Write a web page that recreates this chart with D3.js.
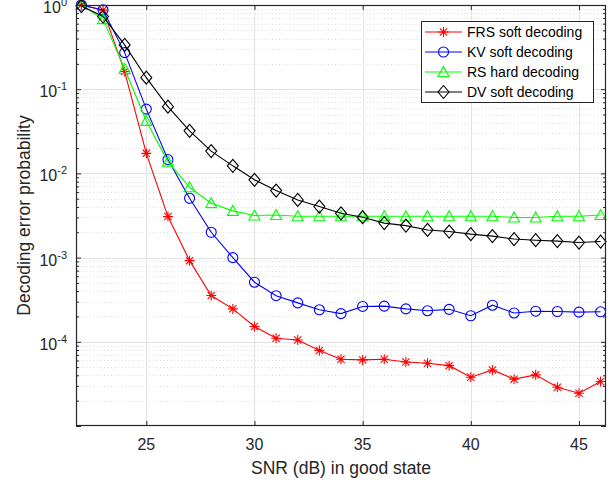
<!DOCTYPE html>
<html>
<head>
<meta charset="utf-8">
<script src="https://cdn.jsdelivr.net/npm/d3@7"></script>
<style>
  html, body { margin: 0; padding: 0; background: #fff; }
  svg { display: block; font-family: "Liberation Sans", Arial, Helvetica, sans-serif; }
</style>
</head>
<body>
<svg id="chart" width="616" height="483"></svg>
<script>
// SNR values (dB) in the good channel state
const snr = [22, 23, 24, 25, 26, 27, 28, 29, 30, 31, 32, 33, 34, 35, 36, 37, 38, 39, 40, 41, 42, 43, 44, 45, 46];

// Decoding error probability per decoder
const frsSoft = [1.0, 0.87, 0.162, 0.0173, 0.00307, 0.00092, 0.000354, 0.000246, 0.000152, 0.00011,
  0.000105, 0.000079, 0.000062, 0.000061, 0.000062, 0.0000576, 0.0000557, 0.0000521, 0.000038,
  0.0000463, 0.000036, 0.0000405, 0.0000289, 0.0000245, 0.0000338];
const kvSoft = [1.0, 0.874, 0.272, 0.058, 0.0146, 0.00507, 0.0020, 0.0010, 0.00051, 0.000353,
  0.00029, 0.00024, 0.000216, 0.000263, 0.000265, 0.000246, 0.000234, 0.000243, 0.000204,
  0.000272, 0.00022, 0.000231, 0.000229, 0.000225, 0.000227];
const rsHard = [1.0, 0.68, 0.174, 0.042, 0.0138, 0.00685, 0.00443, 0.00359, 0.00316, 0.0032,
  0.0031, 0.0031, 0.0031, 0.0031, 0.0031, 0.0031, 0.0031, 0.0031, 0.0031, 0.0031, 0.0030,
  0.0030, 0.0031, 0.0031, 0.0032];
const dvSoft = [0.97, 0.73, 0.336, 0.137, 0.062, 0.032, 0.0184, 0.0123, 0.0084, 0.00625,
  0.00484, 0.00404, 0.00336, 0.00302, 0.00257, 0.0024, 0.00213, 0.00204, 0.0019, 0.0018,
  0.00166, 0.00161, 0.00157, 0.00151, 0.00155];

const seriesNames = ["FRS soft decoding", "KV soft decoding", "RS hard decoding", "DV soft decoding"];
const seriesColors = ["#ff0000", "#0000ff", "#00ff00", "#000000"];
const seriesMarkers = ["star", "circle", "triangle", "diamond"];

const xTicks = [25, 30, 35, 40, 45];
const yExponents = [0, -1, -2, -3, -4, -5];

const series = [frsSoft, kvSoft, rsHard, dvSoft].map((vals, i) => ({
  name: seriesNames[i], color: seriesColors[i], marker: seriesMarkers[i],
  points: snr.map((s, j) => [s, vals[j]])
}));

const svg = d3.select("#chart");
const L = 76, R = 606, T = 5, B = 426;
const axisColor = "#262626";

const x = d3.scaleLinear().domain([21.75, 46.25]).range([L, R]);
const y = d3.scaleLog().domain([1e-5, 1]).range([B, T]);

svg.append("rect").attr("width", 616).attr("height", 483).attr("fill", "#fff");

// Minor and major grid
const minorVals = [];
for (let e = -5; e < 0; e++) for (let k = 2; k <= 9; k++) minorVals.push(k * Math.pow(10, e));
const grid = svg.append("g");
grid.selectAll("line.minor").data(minorVals).join("line")
  .attr("x1", L).attr("x2", R)
  .attr("y1", d => Math.round(y(d)) + 0.5).attr("y2", d => Math.round(y(d)) + 0.5)
  .attr("stroke", "#d0d0d0").attr("stroke-width", 0.8).attr("stroke-dasharray", "1,2.5");
grid.selectAll("line.hmaj").data(yExponents.slice(1, -1)).join("line")
  .attr("x1", L).attr("x2", R)
  .attr("y1", d => Math.round(y(Math.pow(10, d))) + 0.5).attr("y2", d => Math.round(y(Math.pow(10, d))) + 0.5)
  .attr("stroke", "#e3e3e3").attr("stroke-width", 1);
grid.selectAll("line.vmaj").data(xTicks).join("line")
  .attr("x1", d => Math.round(x(d)) + 0.5).attr("x2", d => Math.round(x(d)) + 0.5)
  .attr("y1", T).attr("y2", B)
  .attr("stroke", "#e3e3e3").attr("stroke-width", 1);

// Axes built from d3 axis generators, ticks pointing inward
const fmtNone = () => "";
const xBottom = svg.append("g").attr("transform", `translate(0,${B})`)
  .call(d3.axisBottom(x).tickValues(xTicks).tickSizeInner(-5).tickSizeOuter(0).tickFormat(fmtNone));
const xTop = svg.append("g").attr("transform", `translate(0,${T})`)
  .call(d3.axisTop(x).tickValues(xTicks).tickSizeInner(-5).tickSizeOuter(0).tickFormat(fmtNone));
const majorY = yExponents.map(e => Math.pow(10, e));
const yLeftMinor = svg.append("g").attr("transform", `translate(${L},0)`)
  .call(d3.axisLeft(y).tickValues(minorVals).tickSizeInner(-3).tickSizeOuter(0).tickFormat(fmtNone));
const yRightMinor = svg.append("g").attr("transform", `translate(${R},0)`)
  .call(d3.axisRight(y).tickValues(minorVals).tickSizeInner(-3).tickSizeOuter(0).tickFormat(fmtNone));
const yLeft = svg.append("g").attr("transform", `translate(${L},0)`)
  .call(d3.axisLeft(y).tickValues(majorY).tickSizeInner(-5).tickSizeOuter(0).tickFormat(fmtNone));
const yRight = svg.append("g").attr("transform", `translate(${R},0)`)
  .call(d3.axisRight(y).tickValues(majorY).tickSizeInner(-5).tickSizeOuter(0).tickFormat(fmtNone));
[xBottom, xTop, yLeftMinor, yRightMinor, yLeft, yRight].forEach(g => {
  g.selectAll("line").attr("stroke", axisColor);
  g.select(".domain").remove();
});

// Series lines and markers
const line = d3.line().x(d => x(d[0])).y(d => y(d[1]));

function markerPath(kind) {
  switch (kind) {
    case "circle": return d3.symbol(d3.symbolCircle, Math.PI * 25)();
    case "triangle": return "M0,-5.5L5.5,4.5L-5.5,4.5Z";
    case "diamond": return "M0,-6.5L5.5,0L0,6.5L-5.5,0Z";
    case "star": return "M0,-5L0,5M-5,0L5,0M-3.6,-3.6L3.6,3.6M-3.6,3.6L3.6,-3.6";
  }
}

series.forEach(s => {
  const g = svg.append("g");
  g.append("path").datum(s.points).attr("d", line)
    .attr("fill", "none").attr("stroke", s.color).attr("stroke-width", 1.1);
  g.selectAll("path.m").data(s.points).join("path")
    .attr("class", "m")
    .attr("transform", d => `translate(${x(d[0])},${y(d[1])})`)
    .attr("d", markerPath(s.marker))
    .attr("fill", "none").attr("stroke", s.color).attr("stroke-width", 1.1);
});

// Axes box
svg.append("rect").attr("x", L + 0.5).attr("y", T + 0.5).attr("width", R - L - 1).attr("height", B - T - 1)
  .attr("fill", "none").attr("stroke", axisColor).attr("stroke-width", 1.2);

// Tick labels
svg.append("g").selectAll("text").data(xTicks).join("text")
  .attr("x", d => x(d)).attr("y", 450)
  .attr("text-anchor", "middle").attr("font-size", 16).attr("fill", axisColor)
  .text(d => d);

const yLab = svg.append("g").selectAll("text").data(yExponents.slice(0, -1)).join("text")
  .attr("x", 67).attr("y", d => y(Math.pow(10, d)) + 8)
  .attr("text-anchor", "end").attr("font-size", 16).attr("fill", axisColor);
yLab.append("tspan").text("10");
yLab.append("tspan").attr("font-size", 11).attr("dy", -7).text(d => d === 0 ? "0" : "-" + Math.abs(d));

// Axis titles
svg.append("text").attr("x", (L + R) / 2).attr("y", 474)
  .attr("text-anchor", "middle").attr("font-size", 17.5).attr("fill", axisColor)
  .text("SNR (dB) in good state");
svg.append("text").attr("transform", `translate(30,${(T + B) / 2}) rotate(-90)`)
  .attr("text-anchor", "middle").attr("font-size", 17.5).attr("fill", axisColor)
  .text("Decoding error probability");

// Legend
const lg = svg.append("g");
lg.append("rect").attr("x", 421.5).attr("y", 21.5).attr("width", 172).attr("height", 81)
  .attr("fill", "#fff").attr("stroke", axisColor).attr("stroke-width", 1);
series.forEach((s, i) => {
  const cy = 32 + i * 20;
  lg.append("line").attr("x1", 425).attr("x2", 462).attr("y1", cy).attr("y2", cy)
    .attr("stroke", s.color).attr("stroke-width", 1.1);
  lg.append("path").attr("transform", `translate(443.5,${cy})`).attr("d", markerPath(s.marker))
    .attr("fill", "none").attr("stroke", s.color).attr("stroke-width", 1.1);
  lg.append("text").attr("x", 467).attr("y", cy).attr("dy", "0.36em")
    .attr("font-size", 14).attr("fill", "#000").text(s.name);
});
</script>
</body>
</html>
